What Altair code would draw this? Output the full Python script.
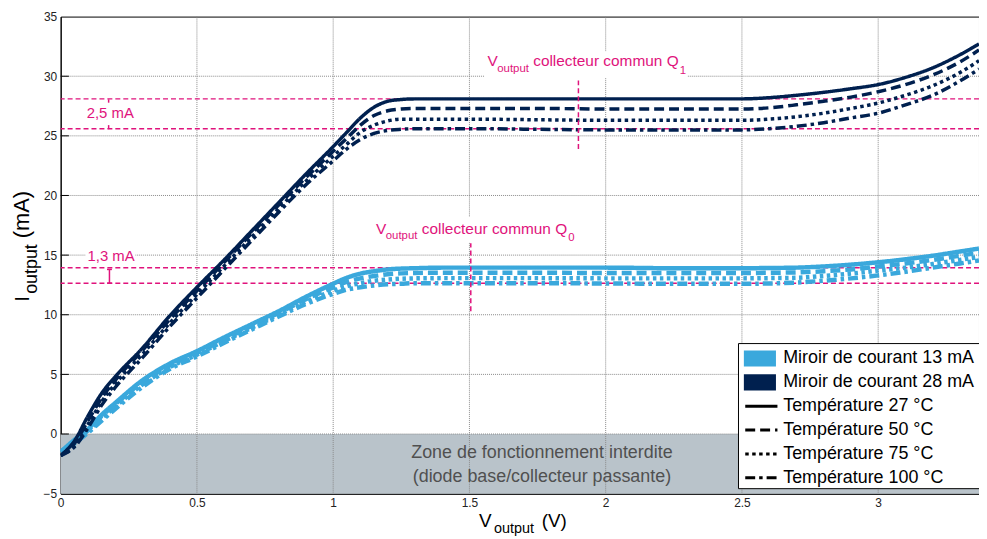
import altair as alt
import pandas as pd

# ---------------- data ----------------
V = [0, 0.05, 0.1, 0.15, 0.2, 0.3, 0.4, 0.5, 0.6, 0.7, 0.8, 0.9, 1.0, 1.05, 1.1, 1.15,
     1.2, 1.25, 1.3, 1.4, 1.5, 1.75, 2.0, 2.25, 2.5, 2.6, 2.7, 2.8, 2.9, 3.0, 3.1, 3.2, 3.3, 3.37]

dark27 = [-1.8, -0.6, 1.5, 3.4, 4.8, 7.2, 9.9, 12.3, 14.6, 17.0, 19.4, 21.8, 24.1, 25.3, 26.5, 27.4,
          27.9, 28.05, 28.1, 28.1, 28.1, 28.1, 28.1, 28.1, 28.1, 28.2, 28.4, 28.65, 28.95, 29.3, 29.9, 30.7, 31.8, 32.7]
dark50 = [-1.8, -0.8, 1.1, 3.0, 4.5, 7.0, 9.6, 12.0, 14.4, 16.8, 19.2, 21.5, 23.7, 24.8, 25.9, 26.7,
          27.1, 27.25, 27.3, 27.3, 27.3, 27.3, 27.25, 27.25, 27.25, 27.35, 27.6, 27.9, 28.25, 28.7, 29.3, 30.1, 31.2, 32.2]
dark75 = [-1.8, -1.0, 0.8, 2.7, 4.2, 6.7, 9.3, 11.7, 14.1, 16.5, 18.9, 21.2, 23.3, 24.3, 25.3, 25.9,
          26.25, 26.4, 26.4, 26.4, 26.4, 26.35, 26.3, 26.3, 26.3, 26.4, 26.6, 26.9, 27.3, 27.75, 28.4, 29.2, 30.3, 31.3]
dark100 = [-1.8, -1.1, 0.5, 2.4, 3.9, 6.4, 9.0, 11.4, 13.8, 16.2, 18.6, 20.9, 22.9, 23.9, 24.7, 25.2,
           25.45, 25.55, 25.6, 25.6, 25.6, 25.55, 25.5, 25.5, 25.5, 25.6, 25.8, 26.1, 26.5, 26.9, 27.6, 28.4, 29.6, 30.6]

light27 = [-1.5, -0.5, 0.4, 1.6, 2.6, 4.5, 5.9, 6.95, 8.1, 9.2, 10.3, 11.5, 12.6, 13.1, 13.45, 13.65,
           13.8, 13.87, 13.9, 13.95, 13.95, 13.95, 13.95, 13.9, 13.9, 13.92, 13.95, 14.05, 14.2, 14.4, 14.65, 14.95, 15.3, 15.55]
light50 = [-1.5, -0.6, 0.3, 1.5, 2.5, 4.35, 5.75, 6.8, 7.95, 9.05, 10.15, 11.3, 12.3, 12.75, 13.05, 13.25,
           13.4, 13.47, 13.5, 13.52, 13.52, 13.52, 13.5, 13.5, 13.5, 13.52, 13.55, 13.65, 13.8, 14.05, 14.3, 14.6, 14.95, 15.2]
light75 = [-1.5, -0.7, 0.2, 1.3, 2.3, 4.15, 5.6, 6.65, 7.8, 8.9, 10.0, 11.1, 12.0, 12.4, 12.65, 12.85,
           12.95, 13.02, 13.05, 13.07, 13.07, 13.07, 13.05, 13.05, 13.05, 13.07, 13.1, 13.25, 13.45, 13.7, 13.95, 14.25, 14.6, 14.85]
light100 = [-1.5, -0.8, 0.1, 1.1, 2.1, 3.95, 5.45, 6.5, 7.65, 8.75, 9.85, 10.9, 11.75, 12.1, 12.3, 12.45,
            12.55, 12.6, 12.65, 12.65, 12.65, 12.65, 12.62, 12.6, 12.6, 12.62, 12.7, 12.85, 13.05, 13.3, 13.6, 13.95, 14.3, 14.55]

mirror_keys = ["13 mA", "28 mA"]
mirror_prefix = "Miroir de courant "
families = [mirror_prefix + k for k in mirror_keys]
temps = ["Température 27 °C", "Température 50 °C", "Température 75 °C", "Température 100 °C"]

x_ticks = [0, 0.5, 1, 1.5, 2, 2.5, 3]
y_ticks = [-5, 0, 5, 10, 15, 20, 25, 30, 35]
x_grid = [0.5, 1, 1.5, 2, 2.5, 3]
y_grid = [0, 5, 10, 15, 20, 25, 30]
y_tickmarks = [0, 5, 10, 15, 20, 25, 30]
X_DOMAIN = [0, 3.37]
Y_DOMAIN = [-5, 35]

# forbidden zone
zone_x = [0, 3.37]
zone_y = [-5, 0]
zone_lines = ["Zone de fonctionnement interdite", "(diode base/collecteur passante)"]
zone_lx = [1.766, 1.766]
zone_ly = [-1.6, -3.6]

# pink reference levels
ref_levels = [28.1, 25.6, 13.95, 12.65]
vline_x = [1.9, 1.505]
vline_y1 = [23.9, 10.3]
vline_y2 = [29.9, 16.0]

# bracket marks
brk_x = [0.176, 0.176, 0.179]
brk_y1 = [27.78, 25.56, 12.65]
brk_y2 = [28.06, 25.9, 13.8]
cap_x1 = [0.170, 0.170]
cap_x2 = [0.188, 0.188]
cap_y = [13.8, 12.65]

delta_text = ["2,5 mA", "1,3 mA"]
delta_x = [0.182, 0.185]
delta_y = [26.47, 14.54]

# white backgrounds behind annotation texts
bg_x1 = [1.555, 1.15, 0.091]
bg_x2 = [2.30, 1.90, 0.274]
bg_y1 = [29.85, 16.05, 14.55]
bg_y2 = [32.1, 18.2, 15.45]

# "V_output collecteur commun Q_x" annotations
ann_main_text = ["V", "collecteur commun Q", "V", "collecteur commun Q"]
ann_main_x = [1.566, 1.734, 1.157, 1.325]
ann_main_y = [30.83, 30.83, 16.79, 16.79]
ann_sub_text = ["output", "1", "output", "0"]
ann_sub_x = [1.602, 2.272, 1.193, 1.863]
ann_sub_y = [30.36, 30.2, 16.32, 16.2]

PINK = "#E0137C"
LIGHT = "#3AA8DC"
DARK = "#00204F"
FONT = "Liberation Sans"

# ---------------- tables ----------------
def curves(fam, series):
    rows = []
    for t, ys in zip(temps, series):
        for x, y in zip(V, ys):
            rows.append({"v": x, "i": y, "famille": fam, "temp": t})
    return pd.DataFrame(rows)

df_light = curves(families[0], [light27, light50, light75, light100])
df_dark = curves(families[1], [dark27, dark50, dark75, dark100])

x_axis = alt.Axis(values=x_ticks, format="~g", grid=False, ticks=False, labelFontSize=12, labelFont=FONT,
                  labelColor="#222222", labelPadding=4, domainColor="black", title=None, labelFlush=False)
y_axis = alt.Axis(values=y_ticks, grid=False, ticks=False, labelFontSize=12, labelFont=FONT,
                  labelColor="#222222", labelPadding=4, domainColor="black", title=None, labelFlush=False)


def X(field):
    return alt.X(field, type="quantitative", scale=alt.Scale(domain=X_DOMAIN, nice=False, zero=False), axis=x_axis)


def Y(field):
    return alt.Y(field, type="quantitative", scale=alt.Scale(domain=Y_DOMAIN, nice=False, zero=False), axis=y_axis)


zone = alt.Chart(pd.DataFrame({"x0": [zone_x[0]], "x1": [zone_x[1]], "y0": [zone_y[0]], "y1": [zone_y[1]]})).mark_rect(
    color="#B9C3CA").encode(x=X("x0"), x2="x1", y=Y("y0"), y2="y1")

gx = alt.Chart(pd.DataFrame({"g": x_grid})).mark_rule(color="#8a8a8a", strokeWidth=1, strokeDash=[1, 1]).encode(x=X("g"))
gy = alt.Chart(pd.DataFrame({"g": y_grid})).mark_rule(color="#8a8a8a", strokeWidth=1, strokeDash=[1, 1]).encode(y=Y("g"))

# short inward tick marks on the left axis (MATLAB style)
ytk = alt.Chart(pd.DataFrame({"y": y_tickmarks, "x0": [0] * len(y_tickmarks), "x1": [0.03] * len(y_tickmarks)})).mark_rule(
    color="black", strokeWidth=1).encode(x=X("x0"), x2="x1", y=Y("y"))

bg = alt.Chart(pd.DataFrame({"x1": bg_x1, "x2": bg_x2, "y1": bg_y1, "y2": bg_y2})).mark_rect(color="white").encode(
    x=X("x1"), x2="x2", y=Y("y1"), y2="y2")

href = alt.Chart(pd.DataFrame({"l": ref_levels})).mark_rule(color=PINK, strokeWidth=1.5, strokeDash=[5, 3]).encode(y=Y("l"))

fill_legend = alt.Legend(
    title=None, orient="none", legendX=687, legendY=332, direction="vertical",
    symbolType="M-1,-0.5H1V0.5H-1Z", symbolSize=1050, symbolStrokeWidth=0, symbolOpacity=1,
    clipHeight=24, rowPadding=0, padding=0, labelExpr="'" + mirror_prefix + "' + datum.label",
    labelFont=FONT, labelFontSize=18, labelColor="black", labelOffset=7, labelLimit=400)
dash_legend = alt.Legend(
    title=None, orient="none", legendX=687, legendY=380, direction="vertical",
    symbolType="stroke", symbolSize=1050, symbolStrokeWidth=3, symbolStrokeColor="black",
    clipHeight=24, rowPadding=0, padding=0,
    labelFont=FONT, labelFontSize=18, labelColor="black", labelOffset=4, labelLimit=400)

color_enc = alt.Color("famille:N", scale=alt.Scale(domain=families, range=[LIGHT, DARK]), legend=None)
dash_enc = alt.StrokeDash("temp:N", sort=temps,
                          scale=alt.Scale(domain=temps, range=[[1, 0], [10, 5], [3.5, 3.5], [10, 4, 3.5, 4]]),
                          legend=dash_legend)

light_lines = alt.Chart(df_light).mark_line(strokeWidth=4.5, interpolate="monotone", clip=True).encode(
    x=X("v"), y=Y("i"), color=color_enc, strokeDash=dash_enc, order="v:Q")
dark_lines = alt.Chart(df_dark).mark_line(strokeWidth=3.5, interpolate="monotone", clip=True).encode(
    x=X("v"), y=Y("i"), color=color_enc, strokeDash=dash_enc, order="v:Q")

# invisible filled marks that carry the filled-swatch legend of the two current mirrors
fam_key = alt.Chart(pd.DataFrame({"miroir": mirror_keys})).mark_square(size=0, filled=True, opacity=1).encode(
    x=alt.value(0), y=alt.value(0),
    fill=alt.Fill("miroir:N", scale=alt.Scale(domain=mirror_keys, range=[LIGHT, DARK]), legend=fill_legend))

vref = alt.Chart(pd.DataFrame({"x": vline_x, "y1": vline_y1, "y2": vline_y2})).mark_rule(
    color=PINK, strokeWidth=1.5, strokeDash=[5, 3]).encode(x=X("x"), y=Y("y1"), y2="y2")

brk = alt.Chart(pd.DataFrame({"x": brk_x, "y1": brk_y1, "y2": brk_y2})).mark_rule(
    color=PINK, strokeWidth=1.5).encode(x=X("x"), y=Y("y1"), y2="y2")
caps = alt.Chart(pd.DataFrame({"x1": cap_x1, "x2": cap_x2, "y": cap_y})).mark_rule(
    color=PINK, strokeWidth=1.5).encode(x=X("x1"), x2="x2", y=Y("y"))

delta = alt.Chart(pd.DataFrame({"x": delta_x, "y": delta_y, "t": delta_text})).mark_text(
    color=PINK, font=FONT, fontSize=15, align="center", baseline="alphabetic").encode(x=X("x"), y=Y("y"), text="t:N")

ann_main = alt.Chart(pd.DataFrame({"x": ann_main_x, "y": ann_main_y, "t": ann_main_text})).mark_text(
    color=PINK, font=FONT, fontSize=15.5, align="left", baseline="alphabetic").encode(x=X("x"), y=Y("y"), text="t:N")
ann_sub = alt.Chart(pd.DataFrame({"x": ann_sub_x, "y": ann_sub_y, "t": ann_sub_text})).mark_text(
    color=PINK, font=FONT, fontSize=11.5, align="left", baseline="alphabetic").encode(x=X("x"), y=Y("y"), text="t:N")

zone_txt = alt.Chart(pd.DataFrame({"x": zone_lx, "y": zone_ly, "t": zone_lines})).mark_text(
    color="#505050", font=FONT, fontSize=18, align="center", baseline="middle").encode(x=X("x"), y=Y("y"), text="t:N")

legend_box = alt.Chart(pd.DataFrame({"k": [0]})).mark_rect(fill="white", stroke="black", strokeWidth=1).encode(
    x=alt.value(682), x2=alt.value(930), y=alt.value(329), y2=alt.value(475))

# axis titles with subscripts
xt_main = alt.Chart(pd.DataFrame({"t": ["V", "(V)"], "px": [421, 484]})).mark_text(
    font=FONT, fontSize=19, align="left", baseline="alphabetic", color="black").encode(
    x=alt.X("px:Q", scale=None), y=alt.value(514), text="t:N")
xt_sub = alt.Chart(pd.DataFrame({"t": ["output"]})).mark_text(
    font=FONT, fontSize=14.5, align="left", baseline="alphabetic", color="black").encode(
    x=alt.value(436), y=alt.value(520), text="t:N")

yt_main = alt.Chart(pd.DataFrame({"t": ["I", "(mA)"], "py": [287, 223], "fs": [21, 22]})).mark_text(
    font=FONT, align="left", baseline="alphabetic", angle=270, color="black").encode(
    x=alt.value(-32), y=alt.Y("py:Q", scale=None), text="t:N", size=alt.Size("fs:Q", scale=None, legend=None))
yt_sub = alt.Chart(pd.DataFrame({"t": ["output"]})).mark_text(
    font=FONT, fontSize=18, align="left", baseline="alphabetic", angle=270, color="black").encode(
    x=alt.value(-24), y=alt.value(279), text="t:N")

chart = alt.layer(
    zone, gx, gy, ytk, bg, href, light_lines, dark_lines, fam_key, vref, brk, caps, delta, ann_main, ann_sub, zone_txt,
    legend_box, xt_main, xt_sub, yt_main, yt_sub
).properties(
    width=924, height=480,
    autosize=alt.AutoSizeParams(type="none"),
    padding={"left": 53, "top": 7, "right": 0, "bottom": 44},
    background="white",
).configure_view(stroke="black", strokeWidth=1)

chart.save("out.html", embed_options={"renderer": "svg", "actions": False})
